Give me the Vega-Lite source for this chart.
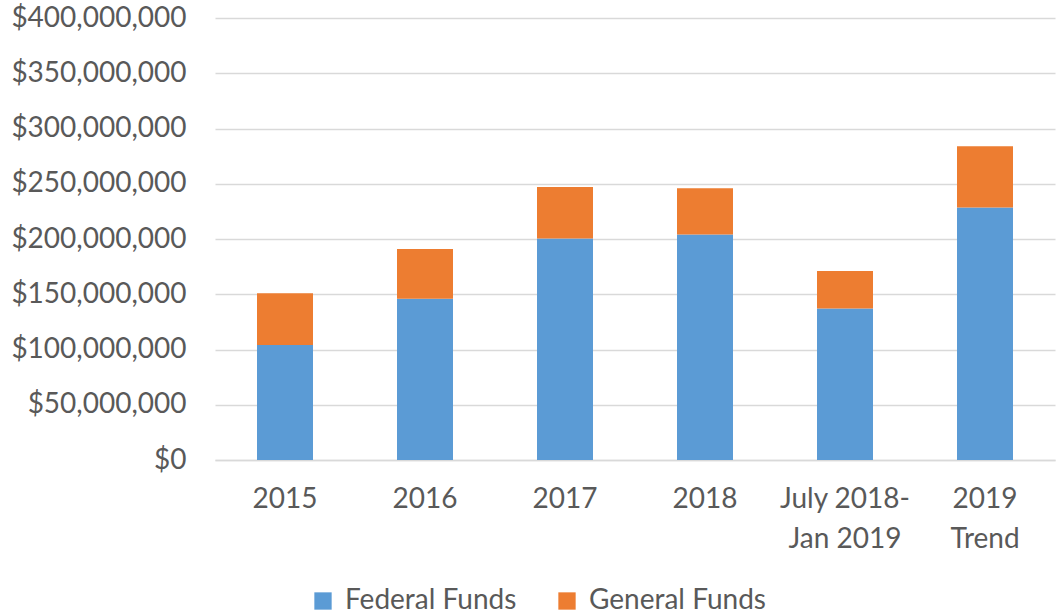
{
  "$schema": "https://vega.github.io/schema/vega-lite/v6.json",
  "autosize": "none",
  "width": 840,
  "height": 442,
  "padding": {"left": 215, "top": 18, "right": 1, "bottom": 156},
  "background": "white",
  "data": {
    "values": [
      {"period": "2015", "fund": "Federal Funds", "amount": 104000000},
      {"period": "2015", "fund": "General Funds", "amount": 47000000},
      {"period": "2016", "fund": "Federal Funds", "amount": 146000000},
      {"period": "2016", "fund": "General Funds", "amount": 45000000},
      {"period": "2017", "fund": "Federal Funds", "amount": 200500000},
      {"period": "2017", "fund": "General Funds", "amount": 46500000},
      {"period": "2018", "fund": "Federal Funds", "amount": 204000000},
      {"period": "2018", "fund": "General Funds", "amount": 42000000},
      {"period": "July 2018-Jan 2019", "fund": "Federal Funds", "amount": 137000000},
      {"period": "July 2018-Jan 2019", "fund": "General Funds", "amount": 34000000},
      {"period": "2019 Trend", "fund": "Federal Funds", "amount": 228500000},
      {"period": "2019 Trend", "fund": "General Funds", "amount": 55500000}
    ]
  },
  "mark": {"type": "bar"},
  "encoding": {
    "x": {
      "field": "period",
      "type": "nominal",
      "sort": null,
      "title": null,
      "scale": {"paddingInner": 0.6, "paddingOuter": 0.3},
      "axis": {
        "labelAngle": 0,
        "ticks": false,
        "labelPadding": 25,
        "labelBaseline": "top",
        "labelLineHeight": 40,
        "labelFont": "Lato",
        "labelFontSize": 28,
        "labelColor": "#595959",
        "domainColor": "#d9d9d9",
        "domainWidth": 1.5,
        "grid": false,
        "labelExpr": "datum.value == 'July 2018-Jan 2019' ? ['July 2018-', 'Jan 2019'] : datum.value == '2019 Trend' ? ['2019', 'Trend'] : datum.value"
      }
    },
    "y": {
      "field": "amount",
      "type": "quantitative",
      "aggregate": "sum",
      "stack": "zero",
      "title": null,
      "scale": {"domain": [0, 400000000], "nice": false},
      "axis": {
        "values": [0, 50000000, 100000000, 150000000, 200000000, 250000000, 300000000, 350000000, 400000000],
        "format": "$,.0f",
        "ticks": false,
        "domain": false,
        "labelPadding": 29,
        "labelFont": "Lato",
        "labelFontSize": 28,
        "labelColor": "#595959",
        "gridColor": "#d9d9d9",
        "gridWidth": 1.5
      }
    },
    "color": {
      "field": "fund",
      "type": "nominal",
      "title": null,
      "scale": {"domain": ["Federal Funds", "General Funds"], "range": ["#5B9BD5", "#ED7D31"]},
      "legend": {
        "orient": "none",
        "direction": "horizontal",
        "legendX": 94,
        "legendY": 569,
        "symbolType": "square",
        "symbolSize": 300,
        "symbolStrokeWidth": 0,
        "labelFont": "Lato",
        "labelFontSize": 28,
        "labelColor": "#595959",
        "labelOffset": 8,
        "labelLimit": 0,
        "columnPadding": 36
      }
    },
    "order": {"field": "fund", "sort": "ascending"}
  },
  "config": {"view": {"stroke": null}}
}
